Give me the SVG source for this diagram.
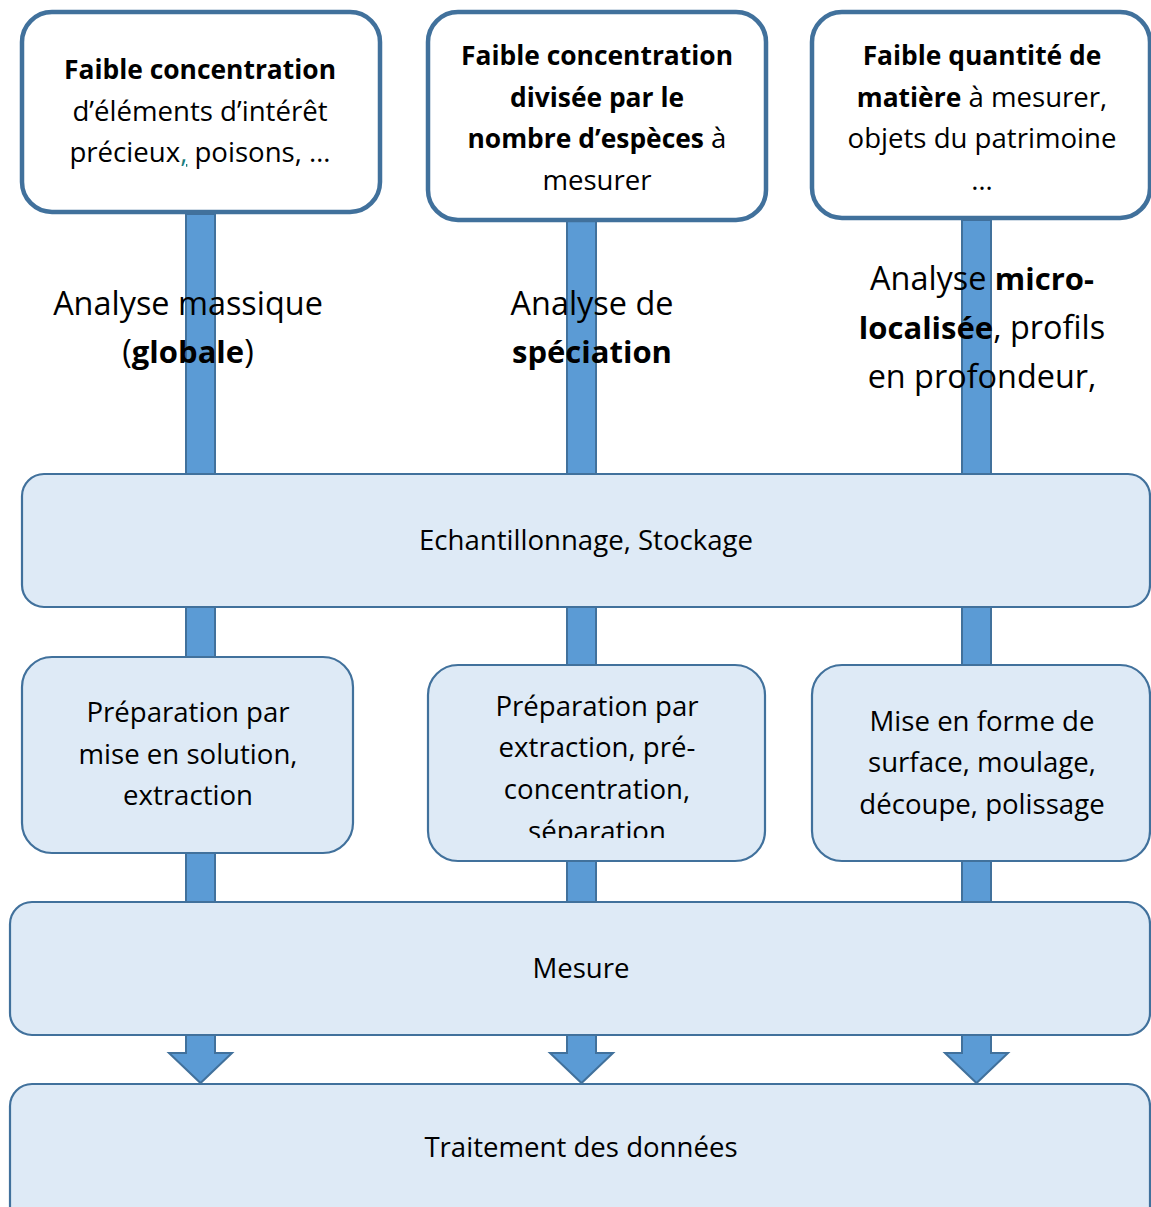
<svg xmlns="http://www.w3.org/2000/svg" width="1151" height="1207" viewBox="0 0 1151 1207">
<defs>
<style>
.top{fill:#FFFFFF;stroke:#41719C;stroke-width:4.5}
.box{fill:#DEEAF6;stroke:#41719C;stroke-width:2.2}
.arr{fill:#5B9BD5;stroke:#41719C;stroke-width:2}
text{font-family:"Open Sans",Lato,sans-serif;fill:#000;text-anchor:middle}
.t26{font-size:27.6px}
.t26.b,.t26 .b{font-size:26.4px;font-weight:bold}
.t31{font-size:32.4px}
.t31.b,.t31 .b{font-size:31px;font-weight:bold}
.ul{fill:#1F7F7F;text-decoration:underline}
</style>
<clipPath id="clipMid2"><rect x="428" y="665" width="338" height="173"/></clipPath>
</defs>
<rect width="1151" height="1207" fill="#FFFFFF"/>
<g id="connectors">
<polygon class="arr" points="186,214 215,214 215,1053 232,1053 200.5,1083 169,1053 186,1053"/>
<polygon class="arr" points="567,220 596,220 596,1053 613,1053 581.5,1083 550,1053 567,1053"/>
<polygon class="arr" points="962,220 991,220 991,1053 1008,1053 976.5,1083 945,1053 962,1053"/>
</g>
<g id="labels">
<text class="t31" x="188" y="315">Analyse massique</text>
<text class="t31" x="188" y="363">(<tspan class="b">globale</tspan>)</text>
<text class="t31" x="592" y="315">Analyse de</text>
<text class="t31 b" x="592" y="363">spéciation</text>
<text class="t31" x="982" y="290">Analyse <tspan class="b">micro-</tspan></text>
<text class="t31" x="982" y="339"><tspan class="b">localisée</tspan>, profils</text>
<text class="t31" x="982" y="388">en profondeur,</text>
</g>
<g id="node-top1">
<rect class="top" x="22" y="12" width="358" height="200" rx="30"/>
<text class="t26 b" x="200" y="79">Faible concentration</text>
<text class="t26" x="200" y="121">d’éléments d’intérêt</text>
<text class="t26" x="200" y="162">précieux<tspan class="ul" style="text-decoration:underline">,</tspan> poisons, …</text>
</g>
<g id="node-top2">
<rect class="top" x="428" y="12" width="338" height="208" rx="30"/>
<text class="t26 b" x="597" y="65">Faible concentration</text>
<text class="t26 b" x="597" y="107">divisée par le</text>
<text class="t26" x="597" y="148"><tspan class="b">nombre d’espèces</tspan> à</text>
<text class="t26" x="597" y="190">mesurer</text>
</g>
<g id="node-top3">
<rect class="top" x="812" y="12" width="338" height="206" rx="30"/>
<text class="t26 b" x="982" y="65">Faible quantité de</text>
<text class="t26" x="982" y="107"><tspan class="b">matière</tspan> à mesurer,</text>
<text class="t26" x="982" y="148">objets du patrimoine</text>
<text class="t26" x="982" y="190">…</text>
</g>
<g id="node-echantillonnage">
<rect class="box" x="22" y="474" width="1128" height="133" rx="22"/>
<text class="t26" x="586" y="550">Echantillonnage, Stockage</text>
</g>
<g id="node-prep1">
<rect class="box" x="22" y="657" width="331" height="196" rx="30"/>
<text class="t26" x="188" y="722">Préparation par</text>
<text class="t26" x="188" y="764">mise en solution,</text>
<text class="t26" x="188" y="805">extraction</text>
</g>
<g id="node-prep2">
<rect class="box" x="428" y="665" width="337" height="196" rx="30"/>
<g clip-path="url(#clipMid2)">
<text class="t26" x="597" y="716">Préparation par</text>
<text class="t26" x="597" y="757">extraction, pré-</text>
<text class="t26" x="597" y="799">concentration,</text>
<text class="t26" x="597" y="841">séparation</text>
</g>
</g>
<g id="node-prep3">
<rect class="box" x="812" y="665" width="338" height="196" rx="30"/>
<text class="t26" x="982" y="731">Mise en forme de</text>
<text class="t26" x="982" y="772">surface, moulage,</text>
<text class="t26" x="982" y="814">découpe, polissage</text>
</g>
<g id="node-mesure">
<rect class="box" x="10" y="902" width="1140" height="133" rx="22"/>
<text class="t26" x="581" y="978">Mesure</text>
</g>
<g id="node-traitement">
<rect class="box" x="10" y="1084" width="1140" height="150" rx="22"/>
<text class="t26" x="581" y="1157">Traitement des données</text>
</g>
</svg>
